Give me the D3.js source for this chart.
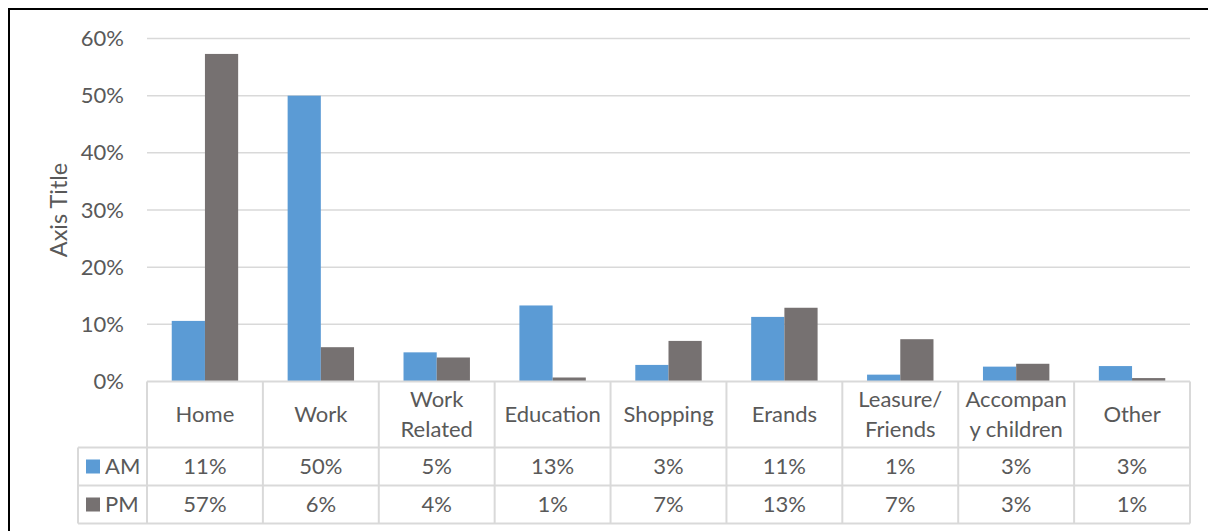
<!DOCTYPE html>
<html>
<head>
<meta charset="utf-8">
<script src="https://cdn.jsdelivr.net/npm/d3@7"></script>
<style>
  html, body { margin: 0; padding: 0; background: #fff; }
  svg { display: block; font-family: Lato, "Open Sans", sans-serif; }
</style>
</head>
<body>
<svg id="chart" width="1208" height="531"></svg>
<script>
// Trip purposes, share of trips by time of day
const categories = ["Home", "Work", "Work Related", "Education", "Shopping", "Erands", "Leasure/ Friends", "Accompany children", "Other"];
// header lines as wrapped in the data table
const categoryLines = [["Home"], ["Work"], ["Work", "Related"], ["Education"], ["Shopping"], ["Erands"], ["Leasure/", "Friends"], ["Accompan", "y children"], ["Other"]];
const seriesNames = ["AM", "PM"];
const amValues = [0.106, 0.500, 0.051, 0.133, 0.029, 0.113, 0.012, 0.026, 0.027];
const pmValues = [0.573, 0.060, 0.042, 0.007, 0.071, 0.129, 0.074, 0.031, 0.006];
const yTicks = [0, 0.1, 0.2, 0.3, 0.4, 0.5, 0.6];
const seriesColors = ["#5B9BD5", "#767171"];

const valuesBySeries = [amValues, pmValues];
const fmt = d3.format(".0%");
const svg = d3.select("#chart");
const textColor = "#595959";
const lineColor = "#D9D9D9";
const fontSize = "22px";

// outer chart frame (right and bottom edges fall outside the view)
svg.append("rect")
  .attr("x", 9).attr("y", 9).attr("width", 1230).attr("height", 560)
  .attr("fill", "none").attr("stroke", "#000").attr("stroke-width", 2);

const x0 = d3.scaleBand().domain(categories).range([147, 1190]).padding(0);
const x1 = d3.scaleBand().domain(seriesNames).range([0, x0.bandwidth()])
  .paddingInner(0).paddingOuter(0.745);
const y = d3.scaleLinear().domain([0, 0.6]).range([381.5, 38.5]);

// gridlines
svg.append("g").selectAll("line").data(yTicks.slice(1)).join("line")
  .attr("x1", 147).attr("x2", 1190)
  .attr("y1", d => y(d)).attr("y2", d => y(d))
  .attr("stroke", lineColor).attr("stroke-width", 1.5);

// y axis labels
const yAxis = svg.append("g").attr("transform", "translate(124,0)")
  .call(d3.axisLeft(y).tickValues(yTicks).tickFormat(fmt).tickSize(0).tickPadding(0));
yAxis.select(".domain").remove();
yAxis.selectAll("text")
  .attr("fill", textColor).style("font-size", fontSize).style("font-family", "Lato, sans-serif");

// axis title
svg.append("text")
  .attr("transform", "translate(67,210) rotate(-90)")
  .attr("text-anchor", "middle")
  .attr("fill", textColor).style("font-size", "23.5px")
  .text("Axis Title");

// bars
const barData = [];
categories.forEach((c, i) => {
  seriesNames.forEach((s, j) => barData.push({ c, s, v: valuesBySeries[j][i], color: seriesColors[j] }));
});
svg.append("g").selectAll("rect").data(barData).join("rect")
  .attr("x", d => x0(d.c) + x1(d.s))
  .attr("width", x1.bandwidth())
  .attr("y", d => y(d.v))
  .attr("height", d => y(0) - y(d.v))
  .attr("fill", d => d.color);

// data table
const rowTop = y(0), headerBottom = 447.5, rowMid = 485.5, rowBottom = 523.5;
const legendLeft = 78;
const table = svg.append("g").attr("stroke", lineColor).attr("stroke-width", 2);
table.append("line").attr("x1", 147).attr("x2", 1190).attr("y1", rowTop).attr("y2", rowTop);
[headerBottom, rowMid, rowBottom].forEach(yy => {
  table.append("line").attr("x1", legendLeft).attr("x2", 1190).attr("y1", yy).attr("y2", yy);
});
const boundaries = categories.map(c => x0(c)).concat([x0.range()[1]]);
boundaries.forEach(xx => {
  table.append("line").attr("x1", xx).attr("x2", xx).attr("y1", rowTop).attr("y2", rowBottom);
});
table.append("line").attr("x1", legendLeft).attr("x2", legendLeft).attr("y1", headerBottom).attr("y2", rowBottom);

// category headers
const headers = svg.append("g").attr("fill", textColor).style("font-size", fontSize).attr("text-anchor", "middle");
categories.forEach((c, i) => {
  const lines = categoryLines[i];
  const cx = x0(c) + x0.bandwidth() / 2;
  const cy = (rowTop + headerBottom) / 2;
  const lh = 30;
  lines.forEach((t, k) => {
    headers.append("text")
      .attr("x", cx)
      .attr("y", cy + (k - (lines.length - 1) / 2) * lh)
      .attr("dy", "0.36em")
      .text(t);
  });
});

// value rows with legend keys
const rowCenters = [(headerBottom + rowMid) / 2, (rowMid + rowBottom) / 2];
seriesNames.forEach((s, j) => {
  const cy = rowCenters[j];
  svg.append("rect").attr("x", 86).attr("y", cy - 7).attr("width", 14).attr("height", 14)
    .attr("fill", seriesColors[j]);
  svg.append("text").attr("x", 105).attr("y", cy).attr("dy", "0.36em")
    .attr("fill", textColor).style("font-size", fontSize).text(s);
  svg.append("g").selectAll("text").data(categories).join("text")
    .attr("x", c => x0(c) + x0.bandwidth() / 2)
    .attr("y", cy).attr("dy", "0.36em")
    .attr("text-anchor", "middle")
    .attr("fill", textColor).style("font-size", fontSize)
    .text((c, i) => fmt(valuesBySeries[j][i]));
});
</script>
</body>
</html>
